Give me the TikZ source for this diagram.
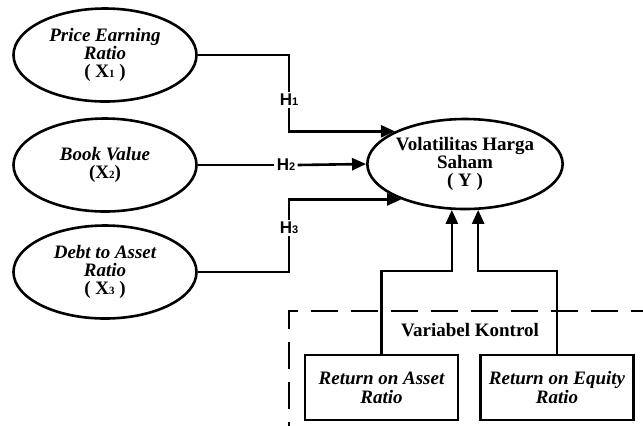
\documentclass[tikz,border=0pt]{standalone}
\usepackage{fontspec}
\setmainfont{Liberation Serif}
\newfontfamily\hlabfont{Liberation Sans}
\usepackage{tikz}
\usetikzlibrary{
  shapes, shapes.geometric, calc, positioning, arrows.meta
}
\newcommand{\smallidx}[1]{{\fontsize{5.5}{5.5}\selectfont #1}}
\newcommand{\varidx}[1]{{\upshape ( X\smallidx{#1} )}}
\tikzset{
  >={Triangle[length=7pt, width=6pt]},
  vh var/.style={draw=black, fill=white, ellipse, inner sep=0pt, align=center,
    minimum width=91.5pt, minimum height=46.5pt, line width=1.3pt,
    font=\fontsize{9.5}{9}\selectfont\bfseries\itshape},
  vh dep/.style={vh var, minimum width=92pt, minimum height=45pt,
    font=\fontsize{9.5}{9}\selectfont\bfseries},
  vh box/.style={draw=black, fill=white, rectangle, inner sep=0pt, align=center,
    minimum width=76.5pt, minimum height=32.5pt, line width=1.3pt,
    font=\fontsize{9.5}{9.5}\selectfont\bfseries\itshape},
  vh line/.style={draw=black, line width=1.3pt},
  vh flow/.style={draw=black, ->, line width=1.3pt},
  vh hyp/.style={fill=white, inner sep=1pt,
    font=\hlabfont\bfseries\fontsize{8.5}{9}\selectfont},
  vh note/.style={font=\fontsize{9.5}{9.5}\selectfont\bfseries},
  vh dash/.style={draw=black, line width=1.3pt, dash pattern=on 13.5pt off 6.5pt,
    dash phase=2pt},
}
\begin{document}
\begin{tikzpicture}[x=0.5pt, y=-0.5pt]
 \useasboundingbox (0,0) rectangle (643,425);
 % independent variables
 \node[vh var] (pe) at (105,55) {Price Earning\\Ratio\\\varidx{1}};
 \node[vh var] (bv) at (105,165) {Book Value\\{\upshape (X\smallidx{2})}};
 \node[vh var] (da) at (105,272) {Debt to Asset\\Ratio\\\varidx{3}};
 % dependent variable
 \node[vh dep] (vol) at (465,164) {Volatilitas Harga\\Saham\\( Y )};
 % control variables
 \node[vh box] (roa) at (381.5,387.5) {Return on Asset\\Ratio};
 \node[vh box] (roe) at (557,387.5) {Return on Equity\\Ratio};
 \node[vh note] (kontrol) at (470,330) {Variabel Kontrol};
 \draw[vh dash] (289,445) -- (289,311) -- (665,311);
 % hypotheses
 \node[vh hyp] (h1) at (289,100) {H\smallidx{1}};
 \node[vh hyp] (h2) at (286,165) {H\smallidx{2}};
 \node[vh hyp] (h3) at (289,228) {H\smallidx{3}};
 \draw[vh line] (pe.east) -| (h1.north);
 \draw[vh flow] (h1.south) |- (vol.155);
 \draw[vh line] (bv.east) -- (h2.west);
 \draw[vh flow] (h2.east) -- (vol.west);
 \draw[vh line] (da.east) -| (h3.south);
 \draw[vh flow] (h3.north) |- (vol.209);
 \coordinate (kt) at (0,271);
 \draw[vh flow] (roa.north) |- (kt -| vol.254) -- (vol.254);
 \draw[vh flow] (roe.north) |- (kt -| vol.286) -- (vol.286);
\end{tikzpicture}
\end{document}
